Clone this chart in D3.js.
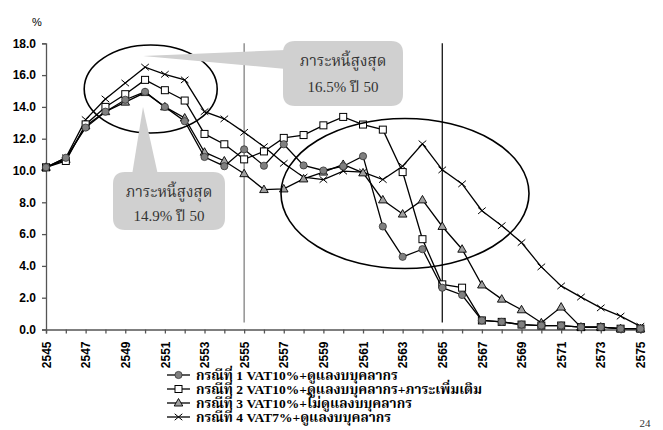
<!DOCTYPE html>
<html><head><meta charset="utf-8">
<script src="https://cdn.jsdelivr.net/npm/d3@7/dist/d3.min.js"></script>
<style>body{margin:0;background:#fff}</style>
</head><body><svg id="c" width="663" height="430"></svg>
<script>
const years = d3.range(2545, 2576);
const yTicks = [0,2,4,6,8,10,12,14,16,18];
const xTickLabels = years.filter(y => (y - 2545) % 2 === 0);
const s1 = [10.2,10.8,12.7,13.7,14.45,14.95,14.0,13.1,10.85,10.27,11.33,10.3,11.65,10.32,10.0,10.27,10.9,6.48,4.57,5.05,2.63,2.17,0.57,0.48,0.31,0.25,0.25,0.15,0.15,0.05,0.05];
const s2 = [10.2,10.6,12.9,14.0,14.8,15.7,15.05,14.4,12.3,11.65,10.7,11.2,12.05,12.23,12.84,13.37,12.89,12.57,9.9,5.68,2.84,2.63,0.57,0.48,0.31,0.25,0.25,0.15,0.15,0.05,0.05];
const s3 = [10.2,10.7,12.8,13.7,14.3,14.9,14.0,13.3,11.15,10.6,9.8,8.8,8.84,9.47,9.9,10.38,9.85,8.15,7.26,8.15,6.48,5.05,2.8,1.91,1.24,0.42,1.41,0.15,0.15,0.05,0.05];
const s4 = [10.2,10.8,13.2,14.5,15.5,16.5,16.05,15.7,13.7,13.25,12.4,11.5,10.45,9.58,9.43,9.96,9.9,9.43,10.27,11.68,10.04,9.16,7.47,6.53,5.47,3.94,2.74,2.04,1.36,0.84,0.2];
const seriesNames = [
  "กรณีที่ 1 VAT10%+ดูแลงบบุคลากร",
  "กรณีที่ 2 VAT10%+ดูแลงบบุคลากร+ภาระเพิ่มเติม",
  "กรณีที่ 3 VAT10%+ไม่ดูแลงบบุคลากร",
  "กรณีที่ 4 VAT7%+ดูแลงบบุคลากร"
];
const markers = ["circle","square","triangle","cross"];
const callout1 = ["ภาระหนี้สูงสุด", "16.5% ปี 50"];
const callout2 = ["ภาระหนี้สูงสุด", "14.9% ปี 50"];
const refYears = [2555, 2565];

const thaiFont = "'Angsana New','Times New Roman','Noto Serif Thai','Noto Sans Thai','Liberation Serif',serif";
const svg = d3.select("#c");
const x = d3.scalePoint().domain(years).range([46, 640.4]);
const y = d3.scaleLinear().domain([0, 18]).range([329.5, 43.3]);

// reference vertical lines
svg.selectAll(".ref").data(refYears).join("line")
  .attr("x1", d => x(d)).attr("x2", d => x(d))
  .attr("y1", y(18)).attr("y2", 322.5)
  .attr("stroke", (d,i) => i === 0 ? "#777" : "#000").attr("stroke-width", 1.2);

// axes
const yAxis = d3.axisLeft(y).tickValues(yTicks).tickFormat(d3.format(".1f")).tickSize(4).tickPadding(6);
const gy = svg.append("g").attr("transform", "translate(46,0)").call(yAxis);
gy.select(".domain").attr("stroke", "#555").attr("stroke-width", 1.3);
gy.selectAll(".tick line").attr("stroke", "#555").attr("stroke-width", 1.3);
gy.selectAll("text").attr("font-family", "Arial, 'Liberation Sans', sans-serif").attr("font-weight", "bold").attr("font-size", 12).attr("fill", "#000");

const xAxis = d3.axisBottom(x).tickValues(years).tickSize(4).tickFormat(d => xTickLabels.includes(d) ? d : "");
const gx = svg.append("g").attr("transform", `translate(0,${y(0)})`).call(xAxis);
gx.select(".domain").attr("stroke", "#555").attr("stroke-width", 1.3);
gx.selectAll(".tick line").attr("stroke", "#555").attr("stroke-width", 1.3);
gx.selectAll("text")
  .attr("font-family", "Arial, 'Liberation Sans', sans-serif").attr("font-weight", "bold").attr("font-size", 12).attr("fill", "#000")
  .attr("transform", "rotate(-90)").attr("text-anchor", "end").attr("dy", "0.35em").attr("x", -12).attr("y", 0);

svg.append("text").attr("x", 37).attr("y", 26).attr("text-anchor", "middle")
  .attr("font-family", "Arial, 'Liberation Sans', sans-serif").attr("font-size", 11).text("%");

// series
const data = [s1, s2, s3, s4];
const line = d3.line().x((d,i) => x(years[i])).y(d => y(d));
function drawMarker(g, type, cx, cy) {
  if (type === "circle") g.append("circle").attr("cx", cx).attr("cy", cy).attr("r", 3.6).attr("fill", "#808080").attr("stroke", "#333").attr("stroke-width", 0.8);
  else if (type === "square") g.append("rect").attr("x", cx-3.5).attr("y", cy-3.5).attr("width", 7).attr("height", 7).attr("fill", "#fff").attr("stroke", "#000").attr("stroke-width", 1);
  else if (type === "triangle") g.append("path").attr("d", `M${cx},${cy-4.5}L${cx+4.3},${cy+3}L${cx-4.3},${cy+3}Z`).attr("fill", "#a0a0a0").attr("stroke", "#000").attr("stroke-width", 0.9);
  else g.append("path").attr("d", `M${cx-3.8},${cy+3.2}L${cx+3.8},${cy-3.2}M${cx-3.8},${cy-3.2}L${cx+3.8},${cy+3.2}`).attr("stroke", "#000").attr("stroke-width", 1);
}
[3,2,1,0].forEach(k => {
  const g = svg.append("g");
  g.append("path").attr("d", line(data[k])).attr("fill", "none").attr("stroke", "#000").attr("stroke-width", 1.3);
  data[k].forEach((v,i) => drawMarker(g, markers[k], x(years[i]), y(v)));
});

// ellipses
svg.append("ellipse").attr("cx", 150.7).attr("cy", 89).attr("rx", 66.5).attr("ry", 44)
  .attr("fill", "none").attr("stroke", "#000").attr("stroke-width", 1.6);
svg.append("ellipse").attr("cx", 405).attr("cy", 193.5).attr("rx", 124).attr("ry", 75)
  .attr("fill", "none").attr("stroke", "#000").attr("stroke-width", 1.6);

// callouts
const calloutFill = "#d0d0d0";
function roundRect(x0, y0, x1, y1, r) {
  return `M${x0+r},${y0}H${x1-r}Q${x1},${y0} ${x1},${y0+r}V${y1-r}Q${x1},${y1} ${x1-r},${y1}H${x0+r}Q${x0},${y1} ${x0},${y1-r}V${y0+r}Q${x0},${y0} ${x0+r},${y0}Z`;
}
svg.append("path").attr("d", "M286,50L143,56L286,69Z").attr("fill", calloutFill);
svg.append("path").attr("d", roundRect(283, 41, 403, 106, 12)).attr("fill", calloutFill);
svg.append("path").attr("d", "M132,175L143,107L158,175Z").attr("fill", calloutFill);
svg.append("path").attr("d", roundRect(113, 172, 225, 230, 12)).attr("fill", calloutFill);

function calloutText(lines, cx, ys) {
  lines.forEach((t, i) => svg.append("text").attr("x", cx).attr("y", ys[i]).attr("text-anchor", "middle")
    .attr("font-family", thaiFont).attr("font-size", 15).attr("fill", "#333").text(t));
}
calloutText(callout1, 343, [66, 92]);
calloutText(callout2, 169, [197, 221]);

// legend
const legendY = [375, 389, 403, 417];
seriesNames.forEach((name, k) => {
  const g = svg.append("g");
  g.append("line").attr("x1", 167).attr("x2", 190).attr("y1", legendY[k]).attr("y2", legendY[k]).attr("stroke", "#000").attr("stroke-width", 1.3);
  drawMarker(g, markers[k], 178.5, legendY[k]);
  g.append("text").attr("x", 196).attr("y", legendY[k]).attr("dy", "0.35em")
    .attr("font-family", thaiFont).attr("font-weight", "bold").attr("font-size", 13.5).attr("fill", "#000").text(name);
});

svg.append("text").attr("x", 645).attr("y", 427).attr("text-anchor", "middle")
  .attr("font-family", "'Times New Roman','Liberation Serif',serif").attr("font-size", 11).attr("fill", "#333").text("24");
</script></body></html>
